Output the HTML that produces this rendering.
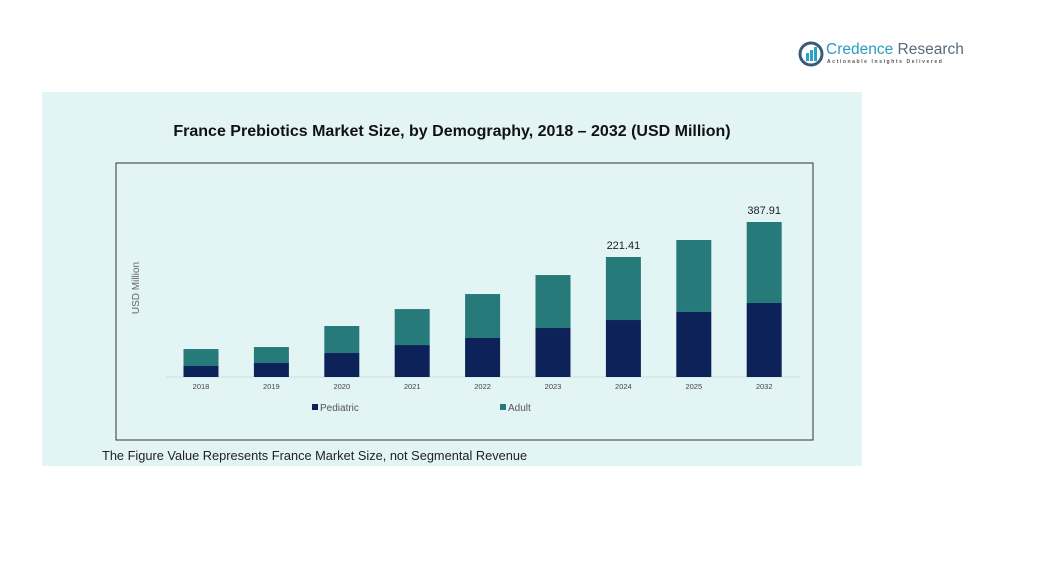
<!DOCTYPE html>
<html><head><meta charset="utf-8"><style>
body{margin:0;background:#fff;width:1043px;height:563px;overflow:hidden;font-family:"Liberation Sans",sans-serif;position:relative}
#panel{position:absolute;left:42px;top:92px;width:820px;height:374px;background:#e3f4f5}
</style></head><body>
<div style="position:absolute;left:798px;top:41px;width:170px;height:30px">
<svg width="30" height="28" style="position:absolute;left:0;top:0"><circle cx="13" cy="13" r="11" fill="none" stroke="#3b5a78" stroke-width="3"/><rect x="8" y="12" width="3" height="8" fill="#2aa3c7"/><rect x="12" y="9" width="3" height="11" fill="#2aa3c7"/><rect x="16" y="6" width="3" height="14" fill="#2aa3c7"/></svg>
<div style="position:absolute;left:28px;top:0;font-size:15.5px;color:#2b9bc0;white-space:nowrap">Credence <span style="color:#5a6a7a">Research</span></div>
<div style="position:absolute;left:29px;top:18px;font-size:5px;letter-spacing:1.6px;color:#555;white-space:nowrap;font-weight:bold">Actionable Insights Delivered</div>
</div>
<div id="panel"></div>
<svg id="chart" width="1043" height="563" style="position:absolute;left:0;top:0"></svg>
<script>
const categories=["2018","2019","2020","2021","2022","2023","2024","2025","2032"];
const pediatric=[27.5,35,60,80,97.6,122.6,142.6,162.7,185.2];
const adult=[42.5,40,67.6,90,110,132.6,157.7,180.2,202.7];
const totalLabels=["","","","","","","221.41","","387.91"];
const svg=document.getElementById('chart');const NS="http://www.w3.org/2000/svg";
function mk(t,a,p){const e=document.createElementNS(NS,t);for(const k in a)e.setAttribute(k,a[k]);(p||svg).appendChild(e);return e;}
const base=377,k=155/387.91;
const y=v=>base-v*k;
const x=i=>201+i*70.4;
const title=mk('text',{x:452,y:136,'text-anchor':'middle','font-size':16,'font-weight':'bold',fill:'#111'});

title.textContent='France Prebiotics Market Size, by Demography, 2018 – 2032 (USD Million)';
const box=mk('rect',{x:116,y:163,width:697,height:277,fill:'none',stroke:'#333','stroke-width':1});

const yt=mk('text',{x:139,y:288,'text-anchor':'middle','font-size':10,fill:'#666',transform:'rotate(-90 139 288)'});
yt.textContent='USD Million';
const ax=mk('line',{x1:166,x2:800,y1:base,y2:base,stroke:'#c8dfe2','stroke-width':1});

categories.forEach((c,i)=>{
 const cx=x(i),w=35;
 const p=mk('rect',{x:cx-w/2,y:y(pediatric[i]),width:w,height:pediatric[i]*k,fill:'#0d2259'});
 
 const a=mk('rect',{x:cx-w/2,y:y(pediatric[i]+adult[i]),width:w,height:adult[i]*k,fill:'#267b7a'});
 
 const t=mk('text',{x:cx,y:389,'text-anchor':'middle','font-size':7.5,fill:'#444'});
 t.textContent=c;
 if(totalLabels[i]){const l=mk('text',{x:cx,y:y(pediatric[i]+adult[i])-8,'text-anchor':'middle','font-size':11,fill:'#222'});
 l.textContent=totalLabels[i];}
});
[['Pediatric','#0d2259',312],['Adult','#267b7a',500]].forEach(([n,c,lx])=>{
 const g=mk('g',{});
 mk('rect',{x:lx,y:404,width:6,height:6,fill:c},g);
 const t=mk('text',{x:lx+8,y:411,'font-size':10,fill:'#555'},g);t.textContent=n;
});
const note=mk('text',{x:102,y:460,'font-size':12.8,fill:'#222'});

note.textContent='The Figure Value Represents France Market Size, not Segmental Revenue';
</script>
</body></html>
